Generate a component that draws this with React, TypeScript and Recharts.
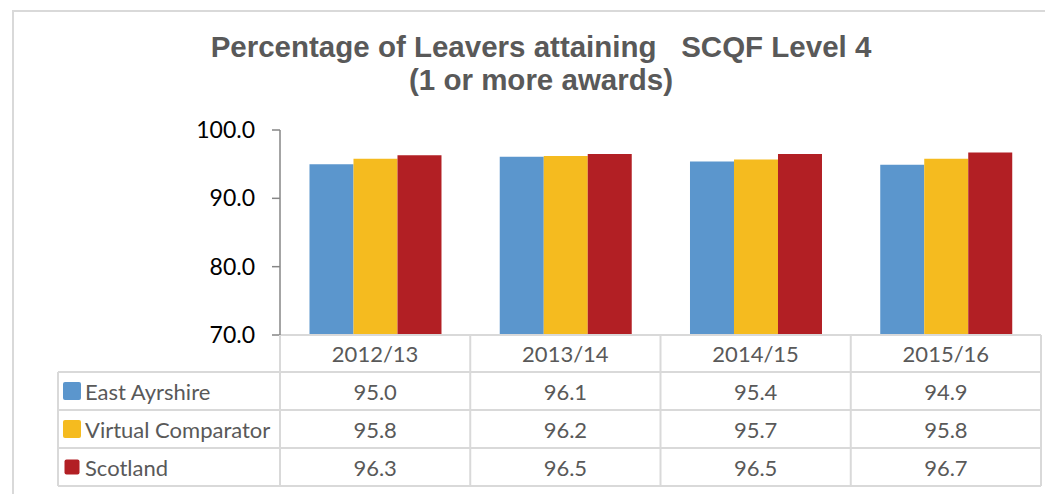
import React from 'react';
import { BarChart, Bar, XAxis, YAxis } from 'recharts';

const categories = ['2012/13', '2013/14', '2014/15', '2015/16'];
const seriesNames = ['East Ayrshire', 'Virtual Comparator', 'Scotland'];
const eastAyrshire = [95.0, 96.1, 95.4, 94.9];
const virtualComparator = [95.8, 96.2, 95.7, 95.8];
const scotland = [96.3, 96.5, 96.5, 96.7];
const yTicks = [70, 80, 90, 100];

const seriesValues = [eastAyrshire, virtualComparator, scotland];
const colors = ['#5B96CD', '#F5BB1F', '#B21F24'];
const keySizes = [18, 18, 15];

const chartData = categories.map((c, i) => ({
  year: c,
  east: eastAyrshire[i],
  virtual: virtualComparator[i],
  scotland: scotland[i],
}));

const CHART_W = 1045;
const CHART_H = 486;
const X_AXIS_H = 159;
const PLOT_BOTTOM = CHART_H - X_AXIS_H;
const ROW_LINES = [0, 37, 75, 113, 151];
const LABEL_COL_W = 222;
const GRID = '#d9d9d9';
const TEXT = '#595959';
const FONT = 'Lato, "Open Sans", sans-serif';

// x axis tick draws one column of the data table (first column also draws the legend keys)
const TableTick = (props: any) => {
  const { x, payload, index } = props;
  const half = payload && payload.offset ? payload.offset : 95;
  const top = PLOT_BOTTOM;
  const left = x - half;
  const right = x + half;
  const tableRight = left + categories.length * half * 2;
  return (
    <g>
      <text x={x} y={top + 18} textAnchor="middle" dominantBaseline="central" fill={TEXT} fontSize={22} fontFamily={FONT}>
        {payload.value}
      </text>
      {seriesValues.map((vals, i) => (
        <text key={i} x={x} y={top + (ROW_LINES[i + 1] + ROW_LINES[i + 2]) / 2} textAnchor="middle" dominantBaseline="central" fill={TEXT} fontSize={22} fontFamily={FONT}>
          {vals[index].toFixed(1)}
        </text>
      ))}
      <line x1={right} x2={right} y1={top} y2={top + 151} stroke={GRID} strokeWidth={2} />
      {index === 0 && (
        <g>
          <line x1={left} x2={left} y1={top} y2={top + 151} stroke={GRID} strokeWidth={2} />
          <line x1={left - LABEL_COL_W} x2={left - LABEL_COL_W} y1={top + 37} y2={top + 151} stroke={GRID} strokeWidth={2} />
          {ROW_LINES.slice(1).map((r) => (
            <line key={r} x1={left - LABEL_COL_W} x2={tableRight} y1={top + r} y2={top + r} stroke={GRID} strokeWidth={2} />
          ))}
          {seriesNames.map((name, i) => {
            const cy = top + (ROW_LINES[i + 1] + ROW_LINES[i + 2]) / 2;
            const s = keySizes[i];
            return (
              <g key={name}>
                <rect x={left - LABEL_COL_W + 5 + (18 - s) / 2} y={cy - s / 2} width={s} height={s} rx={2} fill={colors[i]} />
                <text x={left - LABEL_COL_W + 27} y={cy} dominantBaseline="central" fill={TEXT} fontSize={22} fontFamily={FONT}>
                  {name}
                </text>
              </g>
            );
          })}
        </g>
      )}
    </g>
  );
};

export default function App() {
  return (
    <div style={{ position: 'relative', width: CHART_W, height: CHART_H, overflow: 'hidden', background: '#fff' }}>
      <div style={{ position: 'absolute', left: 4, top: 2, width: 2000, height: 2000, border: `2px solid ${GRID}` }} />
      <div
        style={{
          position: 'absolute', left: 183, top: 22, width: 700, textAlign: 'center', whiteSpace: 'pre',
          fontFamily: '"Liberation Sans", Arial, sans-serif', fontWeight: 'bold', fontSize: 29.5, lineHeight: '33px', color: TEXT,
        }}
      >
        {'Percentage of Leavers attaining   SCQF Level 4\n(1 or more awards)'}
      </div>
      <div style={{ position: 'absolute', left: 0, top: 0 }}>
        <BarChart
          width={CHART_W}
          height={CHART_H}
          data={chartData}
          margin={{ top: 122, right: 12, left: 172, bottom: 0 }}
          barCategoryGap="15.5%"
          barGap={0}
        >
          <XAxis
            dataKey="year"
            height={X_AXIS_H}
            axisLine={{ stroke: GRID, strokeWidth: 2 }}
            tickLine={false}
            tick={<TableTick />}
            interval={0}
          />
          <YAxis
            domain={[70, 100]}
            ticks={yTicks}
            width={100}
            tickFormatter={(v: number) => v.toFixed(1)}
            axisLine={{ stroke: '#868686', strokeWidth: 1.5 }}
            tickLine={{ stroke: '#868686', strokeWidth: 1.5 }}
            tickSize={8}
            tickMargin={17}
            tick={{ fill: '#000', fontSize: 23, fontFamily: FONT }}
            allowDataOverflow
          />
          <Bar dataKey="east" name={seriesNames[0]} fill={colors[0]} isAnimationActive={false} />
          <Bar dataKey="virtual" name={seriesNames[1]} fill={colors[1]} isAnimationActive={false} />
          <Bar dataKey="scotland" name={seriesNames[2]} fill={colors[2]} isAnimationActive={false} />
        </BarChart>
      </div>
    </div>
  );
}
